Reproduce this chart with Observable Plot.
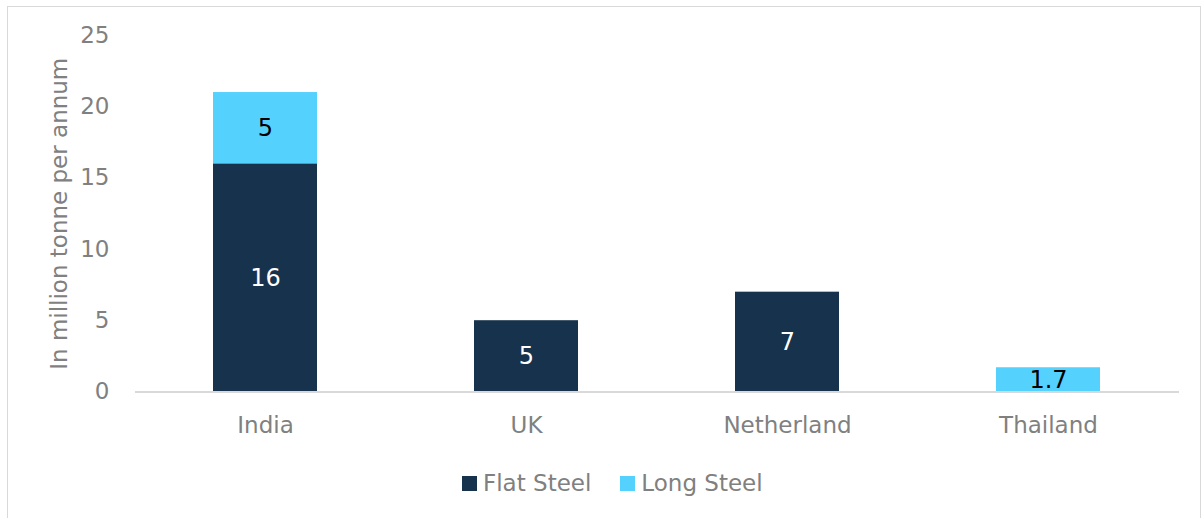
<!DOCTYPE html>
<html><head><meta charset="utf-8">
<script src="https://cdn.jsdelivr.net/npm/d3@7"></script>
<script src="https://cdn.jsdelivr.net/npm/@observablehq/plot@0.6"></script>
<style>
body{margin:0;background:#fff;font-family:"DejaVu Sans",sans-serif;width:1203px;height:518px;overflow:hidden;position:relative;}
#frame{position:absolute;left:7px;top:6px;width:1194px;height:530px;border:1px solid #d9d9d9;box-sizing:border-box;}
#chart{position:absolute;left:0;top:0;}
#legend{position:absolute;top:469px;left:462px;display:flex;align-items:center;font-size:23px;color:#808080;line-height:28px;}
#legend .item{display:flex;align-items:center;margin-right:29px;}
#legend .sw{width:15px;height:15px;margin-right:6px;display:inline-block;}
</style>
</head><body>
<div id="frame"></div>
<div id="chart"></div>
<div id="legend"></div>
<script>
const categories = ["India", "UK", "Netherland", "Thailand"];
const series = ["Flat Steel", "Long Steel"];
const flatSteel = [16, 5, 7, null];
const longSteel = [5, null, null, 1.7];
const colors = ["#17324d", "#55d1fe"];
const labelColors = ["#ffffff", "#000000"];
const yTicks = [0, 5, 10, 15, 20, 25];
const yLabel = "In million tonne per annum";

const rows = [];
[flatSteel, longSteel].forEach((vals, s) => {
  categories.forEach((c, i) => {
    if (vals[i] != null) rows.push({country: c, type: series[s], value: vals[i]});
  });
});

const chart = Plot.plot({
  width: 1203,
  height: 440,
  marginLeft: 135,
  marginRight: 24,
  marginTop: 35,
  marginBottom: 48.5,
  style: {fontFamily: "DejaVu Sans", fontSize: "23px", color: "#808080", background: "transparent"},
  x: {domain: categories, paddingInner: 0.6, paddingOuter: 0.3, label: null, tickSize: 0, tickPadding: 25},
  y: {domain: [0, 25], ticks: yTicks, tickSize: 0, tickPadding: 26, label: yLabel, labelAnchor: "center", labelOffset: 85, labelArrow: "none"},
  color: {domain: series, range: colors},
  marks: [
    Plot.barY(rows, Plot.stackY({x: "country", y: "value", fill: "type", order: null})),
    Plot.ruleY([0], {stroke: "#d9d9d9", strokeWidth: 2}),
    Plot.text(rows, Plot.stackY({x: "country", y: "value", order: null,
      text: d => String(d.value),
      fill: d => labelColors[series.indexOf(d.type)],
      fontSize: 24}))
  ]
});
document.getElementById("chart").appendChild(chart);

const legend = document.getElementById("legend");
series.forEach((s, i) => {
  const item = document.createElement("div");
  item.className = "item";
  const sw = document.createElement("span");
  sw.className = "sw";
  sw.style.background = colors[i];
  const t = document.createElement("span");
  t.textContent = s;
  item.appendChild(sw);
  item.appendChild(t);
  legend.appendChild(item);
});
</script>
</body></html>
